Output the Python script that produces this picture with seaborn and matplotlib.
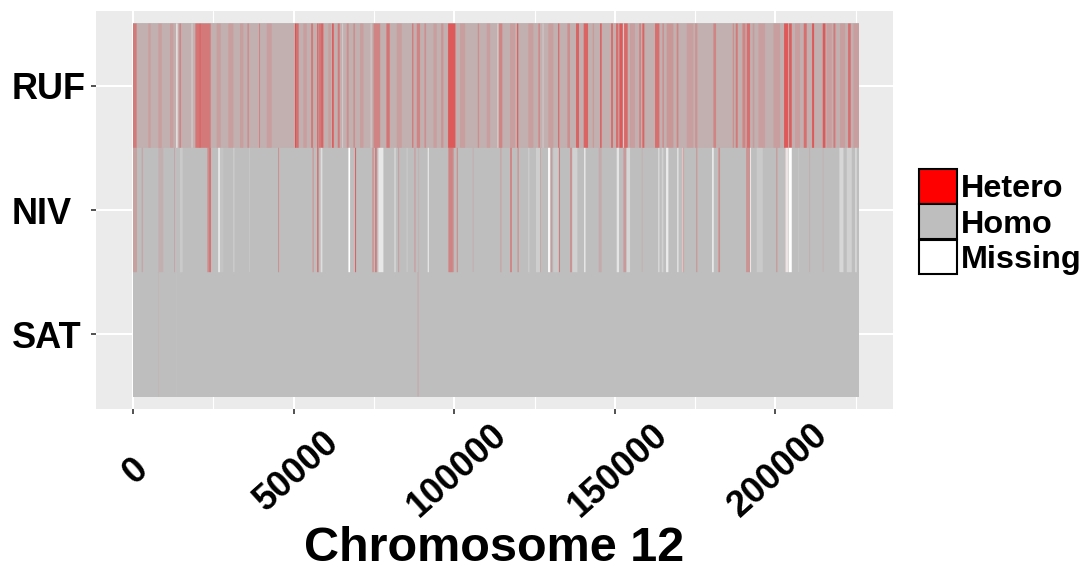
import matplotlib
matplotlib.use('Agg')
import matplotlib.pyplot as plt
import matplotlib.transforms as mtrans
import seaborn as sns
from matplotlib.patches import Patch
from matplotlib.ticker import MultipleLocator

# Chromosome extent and samples
chrom_end = 226000
samples = ['SAT', 'NIV', 'RUF']
legend_labels = ['Hetero', 'Homo', 'Missing']
legend_colors = ['#FF0000', '#BEBEBE', '#FFFFFF']
x_ticks = [0, 50000, 100000, 150000, 200000]

# RUF: heterozygous stretches
ruf_het_start = [0, 14430, 19415, 20660, 21075, 35600, 39240, 50450, 50760, 55430, 57400, 57720, 58550, 61970,
                 63740, 66540, 68610, 74880, 78890, 86880, 88340, 90720, 95915, 98090, 107330, 113940, 119550,
                 126190, 132315, 135220, 137920, 140310, 143110, 145395, 148820, 150375, 151415, 152870, 157640,
                 158575, 162520, 164800, 169270, 174980, 180685, 186705, 187640, 189720, 191065, 192935, 202690,
                 204250, 208815, 211410, 214730, 218050, 222620]
ruf_het_end = [1145, 14950, 20660, 21075, 24190, 36125, 39550, 50760, 51590, 56050, 57610, 58550, 59270, 62490,
               64360, 67160, 69130, 76950, 79930, 87300, 89370, 91240, 96640, 100380, 107750, 114980, 119960,
               126710, 132730, 136050, 138855, 141660, 143530, 145910, 149440, 151100, 152450, 154010, 158060,
               159200, 163870, 165320, 169790, 175700, 181515, 187120, 188260, 190650, 192100, 193450, 203940,
               205080, 209750, 212035, 215560, 218670, 223450]
ruf_het_level = [.5, .4, .55, .8, .5, .3, .4, .9, .6, .5, .95, .5, .7, .8,
                 .5, .3, .3, .4, .55, .5, .4, .3, .25, .8, .3, .4, .7,
                 .35, .6, .3, .7, .7, .2, .7, .6, .6, .8, .65, .55,
                 .7, .6, .3, .4, .25, .4, .3, .5, .4, .6, .2, .8,
                 .75, .6, .8, .8, .5, .6]

# RUF: fainter background stretches, read by eye
ruf_faint_start = [0, 4780, 7890, 11530, 26060, 29690, 33320, 41630, 53050, 60830, 70690, 82110, 93530, 101830,
                   110140, 117370, 123080, 129305, 154735, 166150, 172380, 194700, 199370, 206120, 215980,
                   220130, 224280]
ruf_faint_end = [226000, 5500, 8930, 12560, 27300, 31250, 34360, 43180, 54090, 61560, 71730, 83670, 94570, 103390,
                 111170, 118925, 124635, 130860, 156290, 168230, 174460, 196775, 201450, 207670, 217540,
                 221690, 226000]
ruf_faint_level = [.07, .1, .1, .1, .1, .1, .1, .1, .1, .1, .1, .1, .1, .1,
                   .1, .1, .1, .1, .1, .14, .1, .1, .1, .1, .1,
                   .1, .1]

# RUF: missing stretches
ruf_mis_start = [13390, 18270, 65190, 74020, 113420, 127540, 152660]
ruf_mis_end = [13910, 18480, 65400, 74200, 113700, 127750, 152870]
ruf_mis_level = [.6, .6, .5, .6, .4, .5, .5]

# NIV: heterozygous stretches
niv_het_start = [0, 2700, 7890, 12770, 23150, 23670, 45260, 55950, 57400, 69130, 74430, 75360, 82630, 87500,
                 88860, 98200, 99550, 100790, 105770, 114250, 117370, 119650, 126710, 130135, 132630, 136050,
                 144980, 152660, 158370, 171140, 175290, 182240, 190860, 200200, 203000, 210580, 214730]
niv_het_end = [1250, 3120, 9450, 13080, 23670, 24290, 45470, 56160, 57720, 69450, 75050, 75880, 82840, 88030,
               89060, 99550, 99960, 101100, 105980, 114770, 117990, 120170, 126920, 130550, 132940, 136675,
               145910, 153490, 158680, 171550, 175700, 182760, 192100, 200620, 204040, 210790, 214940]
niv_het_level = [.25, .2, .12, .2, .4, .6, .6, .6, .95, .8, .3, .6, .4, .2,
                 .15, .5, .3, .5, .2, .15, .45, .3, .25, .3, .55, .35,
                 .15, .3, .1, .4, .3, .4, .35, .3, .15, .2, .15]

# NIV: missing stretches
niv_mis_start = [14640, 26580, 27095, 31250, 36230, 58440, 67060, 76400, 81280, 85220, 91760, 123080, 125465,
                 129200, 130860, 136780, 140515, 150585, 153700, 163560, 164600, 165945, 169475, 171035, 180270,
                 192100, 194180, 203110, 204145, 207155, 219920, 222210, 224800]
niv_mis_end = [15470, 26990, 28130, 31560, 36440, 58960, 67580, 77960, 81900, 85430, 92070, 123390, 126710,
               129825, 132420, 138340, 140830, 151310, 154735, 163870, 165120, 166670, 169790, 171340, 180790,
               192410, 196050, 204040, 205080, 207370, 221170, 223760, 225320]
niv_mis_level = [.2, .9, .1, .3, .2, .5, 1, .65, .3, .3, .8, .3, .25,
                 .9, .2, .3, .95, .6, .4, .6, .3, .7, .8, .5, .7,
                 .7, .2, .7, 1, .2, .4, .3, .4]

# SAT: only a couple of faint stretches
sat_het_start = [7890, 88540]
sat_het_end = [8100, 88960]
sat_het_level = [.08, .15]
sat_mis_start = [13390, 3000]
sat_mis_end = [13600, 3200]
sat_mis_level = [.05, .03]

sns.set_theme(style='darkgrid', rc={
    'axes.facecolor': '#EBEBEB',
    'grid.color': 'white',
    'axes.edgecolor': 'none',
    'text.color': 'black',
})
plt.rcParams['font.family'] = ['Liberation Sans', 'DejaVu Sans']

fig, ax = plt.subplots(figsize=(10.86, 5.7), dpi=100)
fig.subplots_adjust(left=96 / 1086, right=893 / 1086, top=1 - 11 / 570, bottom=1 - 409 / 570)

# Homo background for every sample
ax.barh(samples, [chrom_end] * 3, height=1, color='#BEBEBE', linewidth=0, zorder=2)


def draw_stretches(row, starts, ends, levels, color, z, scale=1.0):
    for s, e, lv in zip(starts, ends, levels):
        ax.barh(row, e - s, left=s, height=1, color=color, alpha=lv * scale, linewidth=0, zorder=z,
                edgecolor='none', snap=False)


draw_stretches('RUF', ruf_faint_start, ruf_faint_end, ruf_faint_level, '#FF0000', 3)
draw_stretches('RUF', ruf_het_start, ruf_het_end, ruf_het_level, '#EE2828', 4, 0.8)
draw_stretches('RUF', ruf_mis_start, ruf_mis_end, ruf_mis_level, '#FFFFFF', 5)
draw_stretches('NIV', niv_het_start, niv_het_end, niv_het_level, '#EE2828', 4, 0.8)
draw_stretches('NIV', niv_mis_start, niv_mis_end, niv_mis_level, '#FFFFFF', 5)
draw_stretches('SAT', sat_het_start, sat_het_end, sat_het_level, '#EE2828', 4, 0.8)
draw_stretches('SAT', sat_mis_start, sat_mis_end, sat_mis_level, '#FFFFFF', 5)

ax.set_xlim(-11518, 236600)
ax.set_ylim(-0.6, 2.6)
ax.set_xticks(x_ticks)
ax.xaxis.set_minor_locator(MultipleLocator(25000))
ax.grid(True, which='major', color='white', linewidth=1.5, zorder=1)
ax.grid(True, which='minor', axis='x', color='white', linewidth=0.8, zorder=1)
ax.set_axisbelow(True)

ax.tick_params(axis='both', which='major', length=3.6, width=1.2, color='#333333', left=True, bottom=True)
ax.tick_params(axis='x', which='minor', length=0)
ax.tick_params(axis='y', pad=57)
ax.tick_params(axis='x', pad=41)
for lab in ax.get_yticklabels():
    lab.set_ha('left')
    lab.set_fontsize(26)
    lab.set_fontweight('bold')
    lab.set_color('black')
shift = mtrans.ScaledTranslation(3 / 100, 0, fig.dpi_scale_trans)
for lab in ax.get_xticklabels():
    lab.set_rotation(42)
    lab.set_rotation_mode('anchor')
    lab.set_ha('center')
    lab.set_va('center')
    lab.set_fontsize(26)
    lab.set_fontweight('bold')
    lab.set_color('black')
    lab.set_transform(lab.get_transform() + shift)

ax.set_xlabel('Chromosome 12', fontsize=35, fontweight='bold', color='black', labelpad=1)

handles = [Patch(facecolor=c, edgecolor='black', linewidth=1.5, joinstyle='round') for c in legend_colors]
leg = fig.legend(handles, legend_labels, loc='center left', bbox_to_anchor=(919 / 1086, 1 - 222 / 570),
                 frameon=False, fontsize=23.3, labelspacing=0, handlelength=1.17, handleheight=1.26,
                 handletextpad=0.12, borderpad=0, borderaxespad=0)
for t in leg.get_texts():
    t.set_fontweight('bold')
    t.set_color('black')

plt.savefig('out.png', dpi=100)
